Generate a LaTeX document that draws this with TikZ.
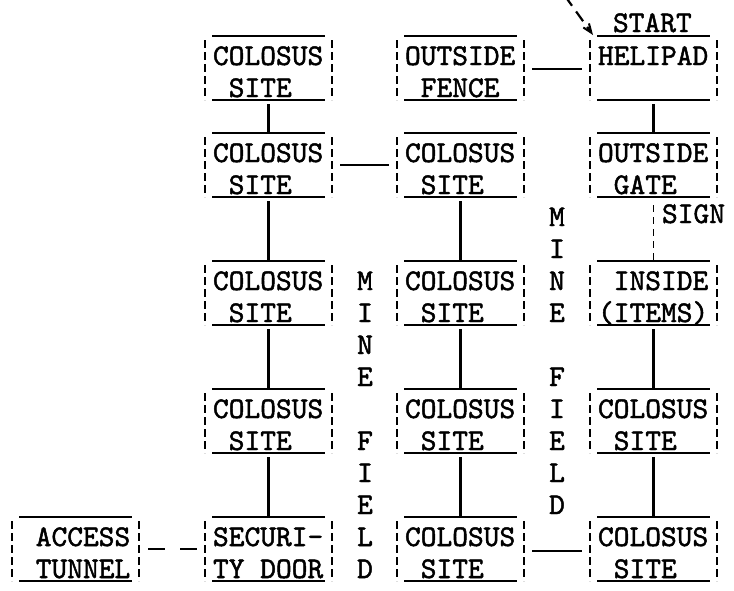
\documentclass[tikz,border=0pt]{standalone}
\usepackage{fontspec}
\newfontfamily\typew{lmmono10-regular.otf}[FakeBold=1.6]
\usetikzlibrary{arrows.meta}
\tikzset{
  boxn/.style={minimum width=127pt,minimum height=64pt,inner sep=0pt,outer sep=0pt,draw=none},
  solidln/.style={line width=1.8pt},
  sideln/.style={line width=1.7pt,dash pattern=on 8pt off 4pt},
  txt/.style={inner sep=0pt,outer sep=0pt,anchor=base west,font=\fontsize{30}{32}\selectfont\typew},
  letter/.style={inner sep=0pt,outer sep=0pt,anchor=base,font=\fontsize{30}{32}\selectfont\typew},
  conn/.style={line width=2.3pt},
  vconn/.style={conn,shorten <=4pt},
  hconn/.style={conn,shorten <=8pt,shorten >=8pt},
  dashconn/.style={line width=2pt,shorten <=9pt,shorten >=8pt,dash pattern=on 17pt off 15pt},
  signconn/.style={line width=1.8pt,shorten <=8pt,dash pattern=on 7pt off 5pt},
  startarrow/.style={line width=2.2pt,dash pattern=on 12pt off 7pt,-{Straight Barb[length=9pt,width=7pt,line width=2pt]}}
}
\newcommand\typedbox[5]{%
  \node[boxn] (#1) at ({#2+63.5},{#3+32}) {};
  \draw[solidln] ([xshift=7pt]#1.north west) -- ([xshift=-7pt]#1.north east);
  \draw[solidln] ([xshift=7pt]#1.south west) -- ([xshift=-7pt]#1.south east);
  \draw[sideln] ([yshift=-4pt]#1.north west) -- (#1.south west);
  \draw[sideln] ([yshift=-4pt]#1.north east) -- (#1.south east);
  \node[txt] (#1a) at ([xshift=8pt,yshift=-29pt]#1.north west) {#4};
  \node[txt] (#1b) at ([xshift=8pt,yshift=-61pt]#1.north west) {#5};
}
\begin{document}
\begin{tikzpicture}[x=1pt,y=-1pt]
\fill[white] (0,0) rectangle (734,590);
\useasboundingbox (0,0) rectangle (734,590);

\typedbox{c1r1}{205}{36}{COLOSUS}{~SITE}
\typedbox{c2r1}{397}{36}{OUTSIDE}{~FENCE}
\typedbox{c3r1}{590}{36}{HELIPAD}{}
\typedbox{c1r2}{205}{133}{COLOSUS}{~SITE}
\typedbox{c2r2}{397}{133}{COLOSUS}{~SITE}
\typedbox{c3r2}{590}{133}{OUTSIDE}{~GATE}
\typedbox{c1r3}{205}{261}{COLOSUS}{~SITE}
\typedbox{c2r3}{397}{261}{COLOSUS}{~SITE}
\typedbox{c3r3}{590}{261}{~INSIDE}{(ITEMS)}
\typedbox{c1r4}{205}{389}{COLOSUS}{~SITE}
\typedbox{c2r4}{397}{389}{COLOSUS}{~SITE}
\typedbox{c3r4}{590}{389}{COLOSUS}{~SITE}
\typedbox{c0r5}{12}{517}{~ACCESS}{~TUNNEL}
\typedbox{c1r5}{205}{517}{SECURI-}{TY DOOR}
\typedbox{c2r5}{397}{517}{COLOSUS}{~SITE}
\typedbox{c3r5}{590}{517}{COLOSUS}{~SITE}

% vertical connectors
\draw[vconn] (c1r1.south) -- (c1r2.north);
\draw[vconn] (c1r2.south) -- (c1r3.north);
\draw[vconn] (c1r3.south) -- (c1r4.north);
\draw[vconn] (c1r4.south) -- (c1r5.north);
\draw[vconn] (c2r2.south) -- (c2r3.north);
\draw[vconn] (c2r3.south) -- (c2r4.north);
\draw[vconn] (c2r4.south) -- (c2r5.north);
\draw[vconn] (c3r1.south) -- (c3r2.north);
\draw[signconn] (c3r2.south) -- (c3r3.north);
\draw[vconn] (c3r3.south) -- (c3r4.north);
\draw[vconn] (c3r4.south) -- (c3r5.north);

% horizontal connectors
\draw[hconn] ([yshift=-1pt]c2r1.east) -- ([yshift=-1pt]c3r1.west);
\draw[hconn] (c1r2.east) -- (c2r2.west);
\draw[hconn] ([yshift=-2pt]c2r5.east) -- ([yshift=-2pt]c3r5.west);
\draw[dashconn] (c0r5.east) -- (c1r5.west);

% labels
\node[txt] (sign) at (662,223) {SIGN};
\node[txt] (start) at (613,32) {START};

% start arrow
\coordinate (arrfrom) at (565,-4);
\draw[startarrow] (arrfrom) -- ([xshift=3pt,yshift=1pt]c3r1.north west);

% mine fields
\foreach \ch/\yy [count=\i] in {M/290,I/322,N/354,E/386,F/450,I/482,E/514,L/546,D/578}
  \node[letter] (mfa\i) at (365,\yy) {\ch};
\foreach \ch/\yy [count=\i] in {M/226,I/258,N/290,E/322,F/386,I/418,E/450,L/482,D/514}
  \node[letter] (mfb\i) at (557,\yy) {\ch};
\end{tikzpicture}
\end{document}
